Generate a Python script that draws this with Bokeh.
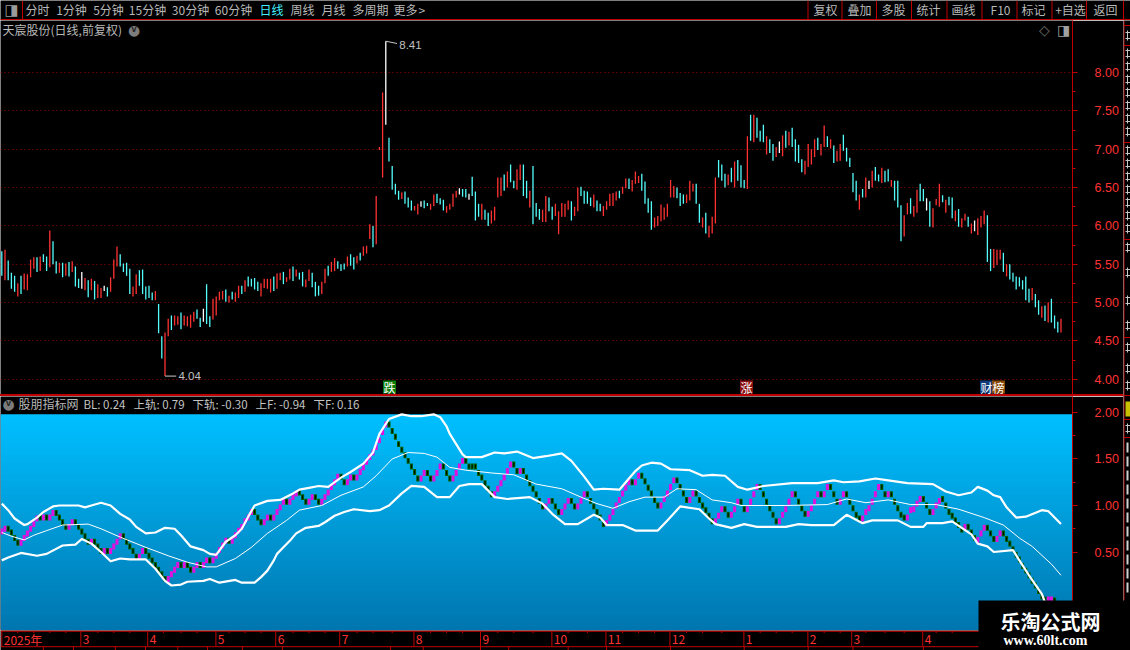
from bokeh.plotting import figure
from bokeh.layouts import column, row
from bokeh.models import (Range1d, FixedTicker, NumeralTickFormatter, Label, BoxAnnotation, Div)
from bokeh.core.properties import value
from bokeh.embed import file_html
from bokeh.resources import INLINE
import numpy as np

# ---------- price panel (bars read as low / high per trading day) ----------
bar_high = [
 5.67,5.69,5.55,5.39,5.35,5.25,5.35,5.38,5.37,5.56, 5.59,5.59,5.60,5.63,5.60,5.94,5.80,5.54,5.52,5.52,
 5.51,5.53,5.54,5.47,5.31,5.40,5.32,5.29,5.31,5.28, 5.24,5.19,5.22,5.20,5.33,5.56,5.73,5.63,5.51,5.52,
 5.44,5.21,5.37,5.42,5.43,5.21,5.22,5.13,5.15,4.98, 4.56,4.61,4.79,4.83,4.83,4.82,4.87,4.83,4.82,4.84,
 4.88,4.91,4.80,4.92,5.24,4.82,5.05,5.08,5.14,5.15, 5.17,5.09,5.14,5.13,5.22,5.22,5.29,5.34,5.31,5.32,
 5.27,5.25,5.31,5.31,5.31,5.34,5.38,5.39,5.40,5.33, 5.44,5.47,5.43,5.39,5.40,5.30,5.43,5.39,5.27,5.22,
 5.27,5.44,5.48,5.53,5.58,5.54,5.50,5.51,5.60,5.63, 5.59,5.61,5.65,5.73,5.74,6.02,6.00,6.39,7.03,7.74,
 8.41,7.15,6.78,6.55,6.46,6.44,6.45,6.37,6.33,6.26, 6.29,6.32,6.33,6.30,6.29,6.41,6.42,6.36,6.34,6.26,
 6.29,6.42,6.46,6.49,6.48,6.48,6.42,6.64,6.45,6.29, 6.29,6.21,6.17,6.20,6.25,6.63,6.63,6.67,6.71,6.80,
 6.59,6.74,6.80,6.80,6.59,6.46,6.78,6.30,6.22,6.21, 6.39,6.37,6.25,6.29,6.19,6.30,6.29,6.33,6.32,6.25,
 6.50,6.51,6.46,6.45,6.37,6.41,6.33,6.29,6.26,6.32, 6.42,6.43,6.45,6.46,6.51,6.62,6.62,6.60,6.71,6.65,
 6.68,6.58,6.36,6.32,6.11,6.13,6.28,6.24,6.29,6.60, 6.52,6.50,6.43,6.41,6.41,6.59,6.55,6.55,6.29,6.11,
 6.17,6.00,6.12,6.63,6.86,6.80,6.68,6.67,6.76,6.84, 6.86,6.79,6.60,7.17,7.45,7.45,7.41,7.24,7.32,7.17,
 7.13,7.07,7.03,7.10,7.18,7.24,7.23,7.28,7.13,7.06, 6.87,6.85,7.07,7.00,7.13,7.15,7.07,7.31,7.17,7.13,
 7.05,6.98,7.07,7.19,7.02,6.89,6.69,6.59,6.41,6.48, 6.63,6.59,6.72,6.77,6.67,6.76,6.72,6.74,6.60,6.59,
 6.59,6.27,6.14,6.30,6.36,6.26,6.47,6.55,6.48,6.36, 6.32,6.23,6.35,6.55,6.40,6.34,6.38,6.37,6.20,6.22,
 6.10,6.16,6.12,6.03,6.07,6.10,6.13,6.20,6.14,5.70, 5.70,5.69,5.69,5.65,5.50,5.50,5.39,5.34,5.33,5.29,
 5.34,5.18,5.19,5.11,5.03,4.95,4.96,5.00,5.05,4.83,4.75,4.79]
bar_low = [
 5.35,5.29,5.29,5.18,5.14,5.08,5.11,5.17,5.16,5.33, 5.44,5.40,5.41,5.53,5.41,5.46,5.50,5.38,5.39,5.33,
 5.35,5.34,5.40,5.21,5.19,5.18,5.16,5.07,5.16,5.04, 5.06,5.06,5.15,5.08,5.14,5.31,5.47,5.47,5.40,5.35,
 5.11,5.08,5.11,5.22,5.11,5.04,5.06,5.03,5.03,4.60, 4.27,4.04,4.56,4.64,4.70,4.71,4.65,4.70,4.69,4.67,
 4.75,4.79,4.68,4.75,4.72,4.68,4.78,4.83,5.03,5.04, 5.01,5.00,5.04,5.01,5.06,5.11,5.14,5.21,5.21,5.17,
 5.15,5.08,5.19,5.18,5.13,5.15,5.18,5.29,5.24,5.27, 5.30,5.28,5.34,5.30,5.21,5.20,5.28,5.20,5.08,5.09,
 5.11,5.25,5.35,5.40,5.41,5.44,5.41,5.43,5.47,5.48, 5.43,5.51,5.55,5.61,5.64,5.83,5.72,5.76,6.99,6.63,
 7.32,6.84,6.47,6.41,6.34,6.35,6.29,6.24,6.20,6.20, 6.15,6.25,6.23,6.26,6.21,6.26,6.30,6.28,6.20,6.17,
 6.21,6.25,6.37,6.41,6.38,6.37,6.34,6.39,6.07,6.12, 6.08,6.08,6.00,6.03,6.07,6.37,6.39,6.46,6.50,6.57,
 6.49,6.47,6.60,6.39,6.36,6.24,6.02,6.12,6.08,6.05, 6.05,6.19,6.08,6.13,5.89,6.12,6.12,6.21,6.07,6.13,
 6.19,6.39,6.29,6.29,6.26,6.24,6.19,6.19,6.13,6.21, 6.26,6.26,6.33,6.36,6.42,6.49,6.48,6.45,6.55,6.56,
 6.46,6.29,6.17,5.95,5.98,6.00,6.06,6.08,6.12,6.37, 6.37,6.36,6.26,6.29,6.30,6.33,6.45,6.29,6.04,5.98,
 5.90,5.85,5.90,6.03,6.63,6.59,6.50,6.53,6.57,6.50, 6.59,6.50,6.49,6.48,7.11,7.09,7.15,7.10,7.09,6.93,
 6.95,6.85,6.90,6.95,6.91,7.02,7.05,7.03,6.84,6.82, 6.70,6.67,6.77,6.80,6.90,6.99,6.92,7.03,7.03,7.01,
 6.82,6.84,6.85,6.98,6.84,6.77,6.44,6.33,6.21,6.37, 6.37,6.48,6.50,6.59,6.58,6.56,6.57,6.58,6.51,6.33,
 6.24,5.80,5.86,6.15,6.16,6.12,6.17,6.32,6.32,6.20, 5.99,5.98,6.27,6.25,6.31,6.17,6.27,6.10,6.06,5.99,
 5.98,6.07,5.99,5.90,5.93,5.88,5.98,6.02,5.53,5.41, 5.45,5.49,5.56,5.40,5.34,5.30,5.27,5.17,5.21,5.17,
 5.03,5.00,5.03,4.94,4.84,4.80,4.76,4.74,4.74,4.66,4.61,4.61]
bar_kind = ("CRCCCRCRRR" "RCRCCRCCRC" "RCRCCWRCRC" "RRWCRRRCCC" "CRRCCCCCRC" "CRRCRRCRRR" "RCCWCCRRRR"
            "CRCRRCRCCC" "CRRRRCRRCR" "RCRCCRRCCC" "RRCRRCCCRC" "CRCRRRCRRR" "WCCCCRCCCR" "RWCCRRCCCR"
            "RRRWCCWCCC" "RCCRRRRCRC" "CRRCCRCCCR" "RCCRRRRRCR" "RCCCCRCCRR" "RRRCRRCRRR" "CCCCRRRRRR"
            "RCCCRRRCCR" "CRRRCCCRCR" "CCCRCRCCCR" "CCRWRCRCCC" "CRRRRCRRCR" "CRRCCCCCRC" "RWRCCRCCRC"
            "CCRRCRRCCW" "CRRRCRCCRC" "RRCRWRRRCC" "RRRCRCCCCC" "CCRCCRCRCCCR")

# ---------- indicator panel ----------
bl_level = [
 .72,.75,.75,.71,.65,.60,.60,.65,.70,.75, .80,.86,.87,.87,.87,.87,.92,.92,.87,.82,
 .77,.77,.82,.82,.77,.72,.67,.61,.61,.61, .56,.51,.51,.51,.51,.56,.61,.67,.67,.61,
 .56,.51,.45,.45,.51,.51,.46,.41,.36,.31, .26,.21,.21,.26,.31,.36,.36,.36,.36,.31,
 .31,.36,.36,.36,.41,.41,.41,.46,.52,.57, .62,.62,.62,.68,.73,.77,.83,.87,.93,.93,
 .87,.82,.82,.87,.87,.87,.93,.98,1.04,1.04, 1.04,1.09,1.13,1.14,1.09,1.04,1.04,1.09,1.09,1.04,
 1.04,1.09,1.14,1.20,1.25,1.31,1.31,1.25,1.25,1.30, 1.30,1.30,1.36,1.41,1.47,1.52,1.57,1.63,1.70,1.79,
 1.87,1.87,1.80,1.74,1.66,1.60,1.54,1.48,1.42,1.36, 1.29,1.29,1.35,1.35,1.29,1.29,1.35,1.42,1.42,1.35,
 1.29,1.29,1.35,1.42,1.48,1.48,1.42,1.42,1.42,1.35, 1.30,1.24,1.18,1.12,1.12,1.18,1.24,1.30,1.37,1.44,
 1.44,1.37,1.37,1.37,1.30,1.24,1.18,1.12,1.05,.99, .99,1.05,1.05,.99,.93,.93,.99,1.05,1.05,.99,
 .99,1.05,1.12,1.12,1.05,.99,.93,.87,.80,.81, .87,.93,1.00,1.06,1.13,1.19,1.25,1.25,1.25,1.32,
 1.32,1.26,1.19,1.13,1.06,1.00,1.00,1.07,1.13,1.20, 1.27,1.27,1.20,1.13,1.06,1.06,1.13,1.13,1.06,1.00,
 .95,.89,.83,.83,.89,.96,.96,.90,.90,.96, 1.04,1.04,.96,.96,1.04,1.12,1.20,1.20,1.12,1.04,
 .97,.90,.83,.83,.90,.96,1.04,1.12,1.12,1.04, .97,.91,.91,.97,1.04,1.12,1.12,1.12,1.20,1.20,
 1.12,1.04,1.04,1.12,1.12,1.04,.97,.90,.86,.86, .93,.97,1.04,1.12,1.20,1.20,1.12,1.12,1.12,1.04,
 .97,.90,.87,.87,.95,.96,1.02,1.07,1.07,1.00, .93,.93,1.00,1.05,1.07,1.00,.93,.89,.84,.79,
 .74,.77,.77,.71,.65,.63,.70,.76,.76,.70, .64,.64,.70,.70,.64,.59,.53,.47,.42,.35,
 .30,.25,.19,.14,.08,.02,-.01,-.01,-.01,-.02,-.07,-.13]
bl_dir = ("UUDDDDUUUU" "UUDUDUUDDD" "DUUDDDDDUD" "DDUDUUUUDD" "DDDUUDDDDD" "DDUUUUDUDD" "UUDUUDUUUU"
          "UDUUUUUUUD" "DDUUDUUUUD" "UUUDDDUUDD" "UUUUUUDDUU" "DUUUUUUUUU" "UDDDDDDDDD" "DUUDDUUUDD"
          "DUUUUDDDDD" "DDDDUUUUUU" "DDUDDDDDDD" "UUDDDUUUDD" "UUUDDDDDDU" "UUUUUUUDUU" "DDDDDDUUUU"
          "UDDDDUUDDD" "DDDUUUDDUU" "UDDUUUUDDD" "DDDUUUUUDD" "DDUUUUDUUD" "DDUUDDDDDU" "UUUUUDDUDD"
          "DDDUUUUUDD" "DUUUDDDDDD" "DUDDDUUUDD" "DUUDDDDDDD" "DDDDDDDUUDDD")

upper_x = [1,3,5,8,9,12,14,17,19,25,27,29,32,35,38,41,43,46,49,52,55,57,60,64,66,68,71,74,76,78,80,84,88,92,94,97,100,103,107,110,114,117,119,122,126,
           129,132,136,138,140,141,143,145,146,151,155,158,162,167,171,176,179,183,186,189,194,197,199,201,204,207,210,216,220,223,227,231,
           234,239,248,256,261,264,269,274,278,284,292,296,300,304,306,309,311,313,315,318,321,326,328,332]
upper_v = [1.02,.95,.86,.79,.80,.87,.93,.99,1.00,1.00,.98,1.00,1.03,1.00,.91,.85,.77,.70,.71,.76,.75,.68,.56,.52,.48,.47,.61,.68,.75,.88,1.00,1.05,1.06,1.13,1.17,1.19,1.21,1.20,1.30,1.36,1.45,1.57,1.77,1.93,1.98,
           1.96,1.96,1.98,1.95,1.85,1.77,1.66,1.55,1.52,1.52,1.57,1.56,1.58,1.51,1.53,1.56,1.48,1.31,1.17,1.18,1.17,1.29,1.37,1.43,1.46,1.45,1.39,1.38,1.32,1.33,1.32,1.20,
           1.17,1.21,1.24,1.24,1.27,1.25,1.26,1.29,1.27,1.24,1.23,1.15,1.11,1.14,1.20,1.16,1.11,1.09,.98,.87,.88,.95,.94,.80]
mid_x = [1,4,8,11,15,20,28,32,38,46,53,59,65,68,74,79,84,90,94,101,107,114,118,123,128,133,137,141,146,154,161,168,176,182,187,192,197,202,208,212,218,223,229,232,
         239,246,259,265,271,278,285,293,300,308,314,319,323,329,332]
mid_v = [.71,.67,.63,.68,.73,.79,.80,.75,.66,.55,.46,.39,.34,.34,.43,.55,.70,.84,.95,1.00,1.11,1.20,1.32,1.50,1.57,1.56,1.52,1.41,1.38,1.35,1.33,1.23,1.18,1.09,1.02,.97,1.04,1.09,1.09,1.18,1.17,1.06,1.03,1.00,
         1.00,1.00,1.01,1.07,1.03,1.06,1.01,1.01,.96,.87,.79,.65,.56,.37,.25]
lower_x = [1,3,7,12,15,20,24,26,29,32,35,38,41,46,49,52,54,57,59,64,66,69,74,76,80,82,84,86,87,89,91,93,96,98,100,102,105,108,111,116,119,122,126,129,133,137,141,144,147,151,155,159,166,170,173,177,181,186,188,190,195,199,206,209,213,219,222,224,229,
           233,237,246,250,254,261,265,270,273,281,285,289,290,295,298,304,306,309,311,317,319,322,326,327,332]
lower_v = [.41,.44,.49,.46,.48,.57,.58,.64,.59,.50,.40,.43,.42,.42,.32,.19,.14,.15,.18,.19,.21,.17,.20,.17,.17,.23,.30,.41,.48,.55,.62,.70,.76,.77,.78,.82,.89,.93,.96,.94,.95,1.00,1.13,1.21,1.20,1.09,1.09,1.21,1.23,1.23,1.09,1.07,1.09,1.02,.91,.80,.80,.90,.87,.79,.79,.73,.73,.84,.99,.96,.86,.80,.76,
           .80,.77,.77,.80,.79,.79,.90,.81,.84,.84,.77,.77,.81,.81,.83,.69,.59,.56,.50,.52,.41,.25,.05,-.04,-.30]

# ---------- axes ----------
price_ticks = [4.0,4.5,5.0,5.5,6.0,6.5,7.0,7.5,8.0]
price_minor = [4.25,4.75,5.25,5.75,6.25,6.75,7.25,7.75]
ind_ticks = [0.5,1.0,1.5,2.0]
ind_minor = [0.75,1.25,1.75]
month_pos = [1,25.7,46.6,67.9,86.6,106.6,129.8,150.6,172.9,189.8,209.8,232.9,252.9,266.6,288.8]
month_txt = ["2025年","3","4","5","6","7","8","9","10","11","12","1","2","3","4"]
week_pos = [6,11,16,21,31,36,41,51.5,57,62,72,77,82,92,97,102,112,117,123,135,140,145,156,161,167,178,184,195,200,205,215,220,226,238,243,248,258,263,271,277,283,293,298]
low_row_pos = [14,23.4,36.5,45.9,56,65.3,76.2,88.7,122.5,132.7,150.6,159.4,178,190,210,233,253,267,289]

# ---------- page geometry (same pixel grid as the reference) ----------
W, H = 1130, 650
COL_W = 1123
SIDE_W = W - COL_W
X0, X1 = 0.594, 335.6
RED = "#c00000"
LAB_RED = "#ff3232"
GREY = "#b8b8b8"
CJK = "Noto Sans CJK SC"
NUM = "Liberation Sans"
AXIS_W = 51


def make(width, height, xr, yr, right=0, **kw):
    p = figure(width=width, height=height, x_range=xr, y_range=yr, output_backend="svg",
               toolbar_location=None, background_fill_color="black", border_fill_color="black",
               min_border_left=0, min_border_top=0, min_border_bottom=0, min_border_right=right, **kw)
    p.outline_line_color = None
    return p


def bare(width, height, xr, yr):
    p = make(width, height, xr, yr)
    p.frame_align = False
    p.axis.visible = False
    p.grid.visible = False
    return p


def strip(height, color):
    return Div(text="", width=COL_W, height=height, margin=0, styles={"background-color": color})


def put(p, xs, ys, texts, color=GREY, size=12, font=CJK, align="left", style="normal"):
    p.text(xs, ys, text=texts, text_color=color, text_font=value(font), text_font_size=f"{size}px",
           text_align=align, text_baseline="middle", text_font_style=style)


def put_px(p, off, X, Y, text, color=GREY, size=12, font=CJK, align="left", style="normal"):
    p.add_layout(Label(x=X, y=Y - off, x_units="canvas", y_units="canvas", text=text,
                       text_color=color, text_font_size=f"{size}px", text_font=font,
                       text_align=align, text_baseline="middle", text_font_style=style, level="overlay"))


def box_px(p, off, X0_, Y0_, X1_, Y1_, color=RED):
    p.add_layout(BoxAnnotation(left=X0_, right=X1_, top=Y0_ - off, bottom=Y1_ - off,
                               left_units="canvas", right_units="canvas", top_units="canvas", bottom_units="canvas",
                               fill_color=color, fill_alpha=1, line_alpha=0, level="overlay"))


# ---------- toolbar (axes in reference pixels) ----------
top = bare(W, 20, Range1d(0, 1130), Range1d(20, 0))
left_c = [37, 71, 108, 147, 190, 233, 271, 302, 333, 370, 405]
left_t = ["分时", "1分钟", "5分钟", "15分钟", "30分钟", "60分钟", "日线", "周线", "月线", "多周期", "更多"]
left_col = [GREY] * 6 + ["#40f0ff"] + [GREY] * 4
put(top, left_c, [9] * 11, left_t, left_col, 12, align="center")
put(top, [418], [9], [">"], GREY, 12)
put(top, [825, 859, 893, 928, 963, 1000, 1033, 1070, 1105], [9] * 9,
    ["复权", "叠加", "多股", "统计", "画线", "F10", "标记", "+自选", "返回"], GREY, 12, align="center")
seps = [22, 807.5, 841.5, 876, 911, 946.5, 981.5, 1016.5, 1051.5, 1086, 1123]
top.segment(seps, [0] * len(seps), seps, [19] * len(seps), color=RED, line_width=1)
top.segment([0], [19.2], [1130], [19.2], color=RED, line_width=1.2)
put(top, [4], [9], ["◨"], "#9a9a9a", 15, "DejaVu Sans")

# ---------- main price panel ----------
main = make(COL_W, 374, Range1d(X0, X1), Range1d(3.80, 8.68), right=AXIS_W, y_axis_location="right")
main.xaxis.visible = False
main.xgrid.visible = False
main.ygrid.ticker = FixedTicker(ticks=price_ticks)
main.ygrid.grid_line_color = "#a00000"
main.ygrid.grid_line_dash = "1 3"
main.ygrid.grid_line_width = 1

bar_colors = {"R": "#ff3232", "C": "#54fcfc", "W": "#ffffff"}
n = np.arange(1, len(bar_high) + 1)
main.segment(n, bar_low, n, bar_high, color=[bar_colors[k] for k in bar_kind], line_width=1.3)

y = main.yaxis[0]
y.ticker = FixedTicker(ticks=price_ticks, minor_ticks=price_minor)
y.formatter = NumeralTickFormatter(format="0.00")

hi_i, lo_i = int(np.argmax(bar_high)), int(np.argmin(bar_low))
main.segment([n[hi_i], n[lo_i]], [bar_high[hi_i], bar_low[lo_i]],
             [n[hi_i] + 3.5, n[lo_i] + 3.5], [bar_high[hi_i] - .03, bar_low[lo_i]], color="#c8c8c8", line_width=1)
put(main, [n[hi_i] + 4.2, n[lo_i] + 4.2], [bar_high[hi_i] - .05, bar_low[lo_i]],
    [f"{bar_high[hi_i]:.2f}", f"{bar_low[lo_i]:.2f}"], "#c0c0c0", 11.5, NUM)

OFF_M = 20
put_px(main, OFF_M, 2, 29, "天宸股份(日线,前复权)", GREY, 12)
put_px(main, OFF_M, 133.5, 29, "●", "#7c7c7c", 14, "DejaVu Sans", align="center")
put_px(main, OFF_M, 133.5, 28.5, "v", "#202020", 9, NUM, align="center", style="bold")
put_px(main, OFF_M, 1044, 29, "◇", "#707070", 14, "DejaVu Sans", align="center")
put_px(main, OFF_M, 1063, 29, "◨", "#a0a0a0", 14, "DejaVu Sans", align="center")

for X, ch, bg in [(389, "跌", "#0a7d0a"), (746, "涨", "#8a0f0f"), (986, "财", "#103a78"), (998, "榜", "#8a4a08")]:
    box_px(main, OFF_M, X - 6.5, 380, X + 6.5, 393, bg)
    put_px(main, OFF_M, X, 386.5, ch, "#ffffff", 12, align="center")

# ---------- indicator panel ----------
ind = make(COL_W, 234, Range1d(X0, X1), Range1d(-0.344, 2.172), right=AXIS_W, y_axis_location="right")
ind.grid.visible = False
ind.xaxis.visible = False

g_top, g_bot = 1.98, -0.344
edges = np.linspace(g_top, g_bot, 55)
c0, c1 = np.array([0, 191, 255]), np.array([0, 118, 176])
g_colors = ["#%02x%02x%02x" % tuple(np.round(c0 + (c1 - c0) * t).astype(int)) for t in np.linspace(0, 1, 54)]
ind.quad(left=X0, right=X1, top=edges[:-1], bottom=edges[1:] - 0.012, fill_color=g_colors, line_color=None)

MAG, GRN = "#e010e0", "#006000"
up = [i for i, d in enumerate(bl_dir) if d == "U"]
dn = [i for i, d in enumerate(bl_dir) if d == "D"]
lvl = np.array(bl_level)
ind.vbar(x=n[up], top=lvl[up] + .032, bottom=lvl[up] - .032, width=0.95, fill_color=MAG, line_color=None)
ind.vbar(x=n[dn], top=lvl[dn] + .032, bottom=lvl[dn] - .032, width=0.95, fill_color=GRN, line_color=None)
ind.vbar(x=n[dn], top=lvl[dn] + .02, bottom=lvl[dn] - .02, width=0.3, fill_color="black", line_color=None)

ind.line(upper_x, upper_v, color="white", line_width=2.2, line_join="round")
ind.line(lower_x, lower_v, color="white", line_width=2.2, line_join="round")
ind.line(mid_x, mid_v, color="white", line_width=1)

y2 = ind.yaxis[0]
y2.ticker = FixedTicker(ticks=ind_ticks, minor_ticks=ind_minor)
y2.formatter = NumeralTickFormatter(format="0.00")

for ax in (y, y2):
    ax.axis_line_color = RED
    ax.major_tick_line_color = RED
    ax.minor_tick_line_color = RED
    ax.major_tick_in = 0
    ax.major_tick_out = 5
    ax.minor_tick_in = 0
    ax.minor_tick_out = 3
    ax.major_label_text_color = LAB_RED
    ax.major_label_text_font = NUM
    ax.major_label_text_font_size = "12.5px"
    ax.major_label_standoff = 17

OFF_I = 396
put_px(ind, OFF_I, 8, 403, "●", "#7c7c7c", 14, "DejaVu Sans", align="center")
put_px(ind, OFF_I, 8, 402.5, "v", "#202020", 9, NUM, align="center", style="bold")
put_px(ind, OFF_I, 18, 403, "股朋指标网", GREY, 12)
for X, t in [(83, "BL: 0.24"), (133, "上轨: 0.79"), (192, "下轨: -0.30"), (255, "上F: -0.94"), (313, "下F: 0.16")]:
    put_px(ind, OFF_I, X, 403, t, "#c4c4c4", 11.5)

# ---------- month strip under the indicator, sharing its x scale ----------
months = make(COL_W, 20, ind.x_range, Range1d(20, 0), right=AXIS_W)
months.axis.visible = False
months.grid.visible = False
mp = np.array(month_pos)
months.segment(mp, [0] * len(mp), mp, [16] * len(mp), color=RED, line_width=1)
months.segment(week_pos, [0] * len(week_pos), week_pos, [2.5] * len(week_pos), color=RED, line_width=1)
months.segment([X0], [0.6], [X1], [0.6], color=RED, line_width=1.2)
months.segment([X0], [16.2], [X1], [16.2], color=RED, line_width=1)
months.segment(low_row_pos, [16] * len(low_row_pos), low_row_pos, [20] * len(low_row_pos), color=RED, line_width=1)
put(months, mp + 0.6, [9.2] * len(mp), month_txt, LAB_RED, 12, CJK)

# ---------- right-hand sidebar: cropped list, only slivers of it are visible ----------
side = bare(SIDE_W, H - 20, Range1d(1123, 1130), Range1d(650, 20))
side.segment([1123.5], [20], [1123.5], [600], color=RED, line_width=1)
rows = [25, 45, 142, 239, 337, 395, 419, 437]
side.segment([1123] * len(rows), rows, [1130] * len(rows), rows, color=RED, line_width=1)
sliver_y = np.array([35] + [53 + 13 * i for i in range(7)] + [150 + 13 * i for i in range(7)] + [247, 272, 300, 325, 347, 368, 385, 428])
m = len(sliver_y)
side.segment([1125] * m, sliver_y - 3, [1130] * m, sliver_y - 3, color="#c8c8c8", line_width=1)
side.segment([1125] * m, sliver_y + 3, [1130] * m, sliver_y + 3, color="#c8c8c8", line_width=1)
side.segment([1127] * m, sliver_y - 5, [1127] * m, sliver_y + 5, color="#c8c8c8", line_width=1)
side.quad(left=[1125], right=[1130], top=[401], bottom=[416], fill_color="#c8c000", line_color=None)
one_y = np.array([447 + 14 * i for i in range(11)])
side.segment([1127] * len(one_y), one_y - 5, [1127] * len(one_y), one_y + 5, color="#d0d0d0", line_width=2)

# ---------- watermark, overlapping the bottom-right corner ----------
wm = bare(152, 50, Range1d(978, 1130), Range1d(650, 600))
wm.margin = (-50, 0, 0, 978)
put(wm, [1050], [621], ["乐淘公式网"], "#ffffff", 20, CJK, align="center", style="bold")
put(wm, [1045], [640], ["www.60lt.com"], "#ffffff", 14, "Liberation Serif", align="center", style="bold")

left_col_layout = column(main, strip(2, RED), ind, months, spacing=0)
page = column(top, row(left_col_layout, side, spacing=0), wm, spacing=0)
open("out.html", "w").write(file_html(page, INLINE))
